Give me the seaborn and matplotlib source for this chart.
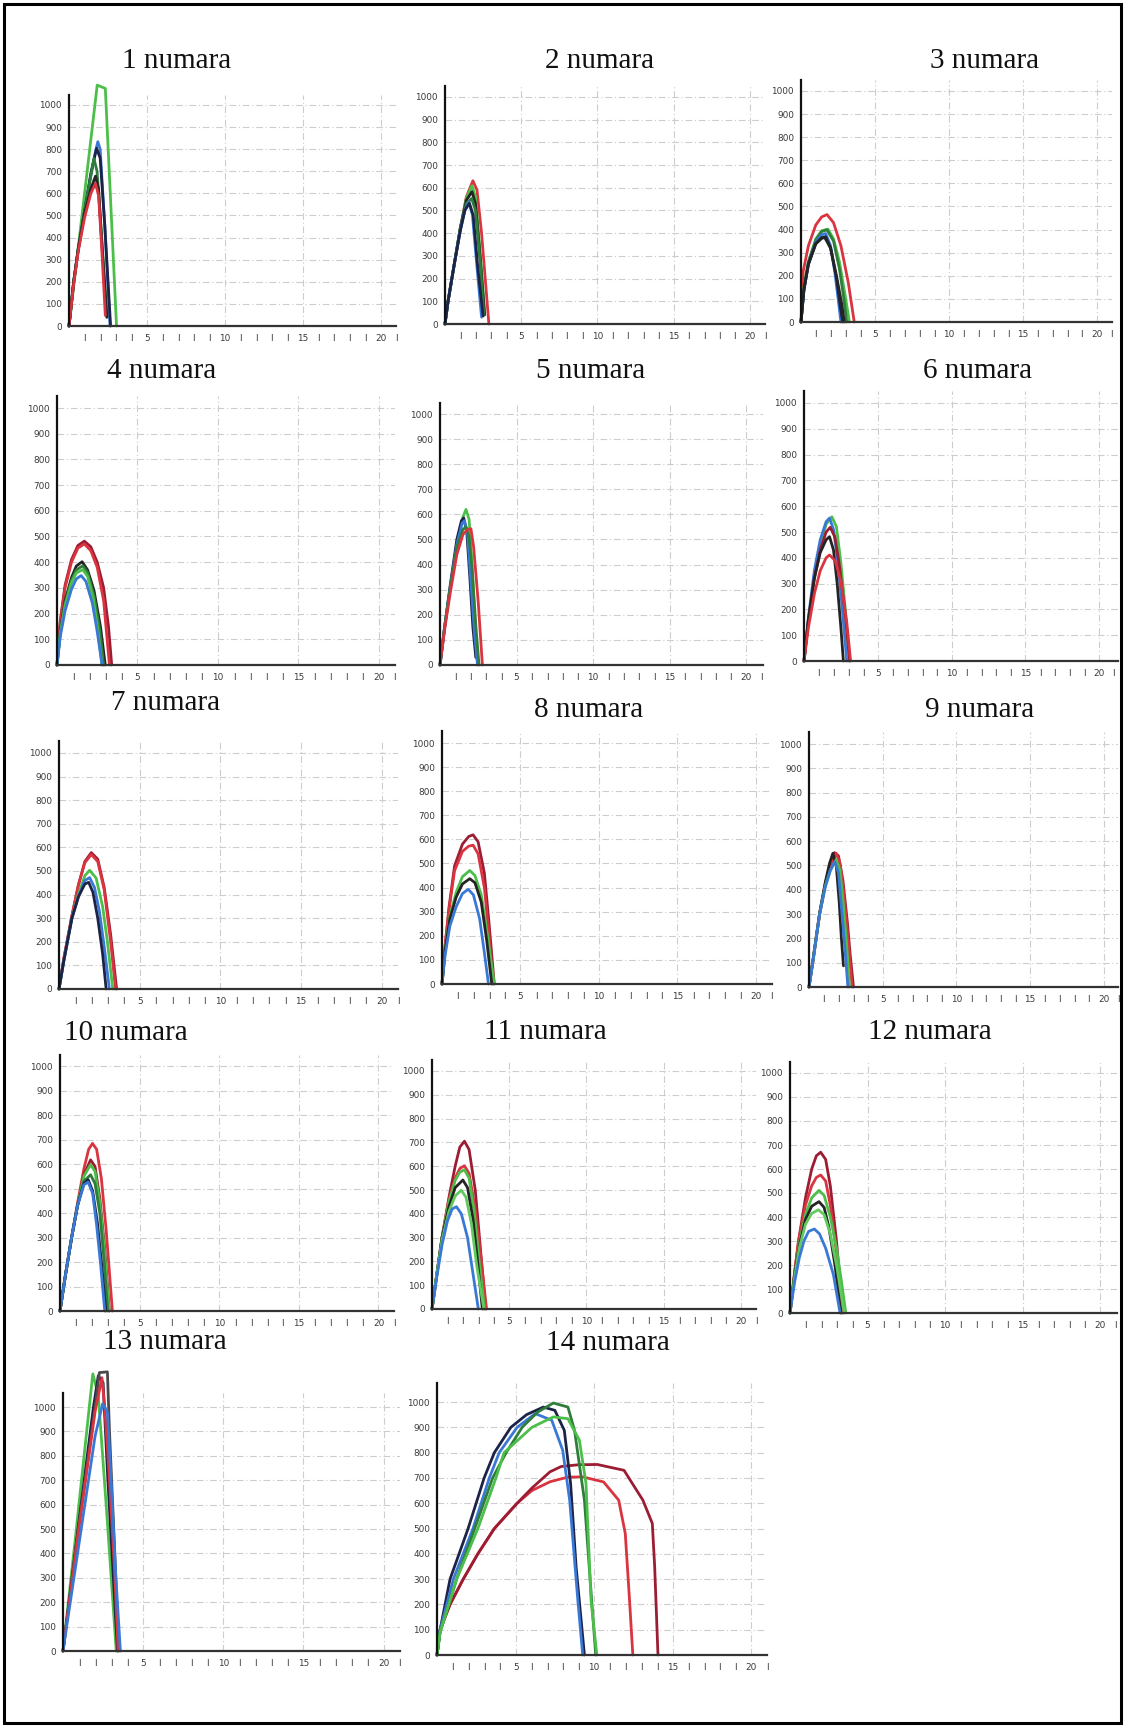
import matplotlib
matplotlib.use("Agg")
import matplotlib.pyplot as plt
from matplotlib.patches import Rectangle
import seaborn as sns
import pandas as pd

# ---------------- data (x = elongation units, y = load) ----------------
P1 = {
    "green":  ([0, 0.5, 1.0, 1.81, 2.33, 3.05], [0, 300, 600, 1090, 1075, 0]),
    "blue":   ([0, 0.3, 0.6, 1.0, 1.4, 1.7, 1.85, 2.0, 2.3, 2.63], [0, 200, 350, 520, 680, 790, 834, 800, 450, 0]),
    "navy":   ([0, 0.3, 0.6, 1.0, 1.4, 1.77, 2.0, 2.3, 2.67], [0, 200, 350, 520, 690, 804, 760, 450, 0]),
    "dkgreen":([0, 0.3, 0.6, 1.0, 1.4, 1.6, 1.8, 2.1, 2.43], [0, 200, 350, 520, 680, 758, 700, 400, 40]),
    "black":  ([0, 0.3, 0.6, 1.0, 1.4, 1.7, 1.9, 2.1, 2.43], [0, 200, 350, 510, 620, 678, 620, 380, 40]),
    "red":    ([0, 0.3, 0.6, 1.0, 1.4, 1.7, 1.9, 2.1, 2.33], [0, 190, 340, 490, 600, 645, 590, 350, 48]),
}
P2 = {
    "red":    ([0, 0.2, 0.6, 1.0, 1.4, 1.83, 2.1, 2.4, 2.7, 2.88], [0, 100, 260, 420, 560, 631, 590, 400, 150, 0]),
    "green":  ([0, 0.2, 0.6, 1.0, 1.4, 1.77, 2.0, 2.3, 2.6], [0, 100, 260, 420, 555, 609, 560, 320, 50]),
    "black":  ([0, 0.2, 0.6, 1.0, 1.4, 1.77, 2.0, 2.3, 2.6], [0, 100, 260, 420, 545, 583, 530, 300, 40]),
    "dkgreen":([0, 0.2, 0.6, 1.0, 1.4, 1.75, 2.0, 2.3, 2.55], [0, 100, 260, 420, 530, 553, 500, 280, 40]),
    "blue":   ([0, 0.2, 0.6, 1.0, 1.3, 1.56, 1.8, 2.1, 2.4], [0, 100, 260, 410, 500, 539, 480, 250, 30]),
    "navy":   ([0, 0.2, 0.6, 1.0, 1.3, 1.6, 1.85, 2.15, 2.5], [0, 100, 260, 410, 500, 532, 480, 250, 35]),
}
P3 = {
    "red":    ([0, 0.15, 0.5, 1.0, 1.4, 1.76, 2.2, 2.7, 3.2, 3.6], [0, 220, 330, 420, 455, 465, 430, 330, 170, 0]),
    "green":  ([0, 0.2, 0.5, 1.0, 1.4, 1.82, 2.2, 2.6, 3.0, 3.27], [0, 150, 260, 360, 395, 402, 360, 260, 110, 0]),
    "dkgreen":([0, 0.2, 0.5, 1.0, 1.4, 1.76, 2.2, 2.6, 2.9, 3.09], [0, 150, 260, 355, 392, 399, 350, 230, 100, 0]),
    "blue":   ([0, 0.2, 0.5, 1.0, 1.4, 1.67, 2.0, 2.3, 2.55, 2.7], [0, 140, 250, 345, 378, 383, 330, 210, 80, 0]),
    "navy":   ([0, 0.2, 0.5, 1.0, 1.4, 1.67, 2.0, 2.4, 2.65, 2.82], [0, 140, 250, 340, 365, 369, 320, 190, 70, 0]),
    "black":  ([0, 0.2, 0.5, 1.0, 1.4, 1.6, 2.0, 2.4, 2.75, 2.93], [0, 140, 250, 338, 362, 366, 320, 200, 80, 0]),
}
P4 = {
    "darkred":([0, 0.2, 0.5, 0.9, 1.3, 1.7, 2.1, 2.5, 2.9, 3.2, 3.4], [0, 170, 310, 410, 465, 482, 460, 400, 300, 150, 0]),
    "red":    ([0, 0.2, 0.5, 0.9, 1.3, 1.7, 2.1, 2.5, 2.9, 3.26], [0, 165, 300, 400, 455, 471, 445, 380, 250, 0]),
    "black":  ([0, 0.2, 0.5, 0.9, 1.2, 1.56, 1.9, 2.3, 2.7, 3.0], [0, 130, 250, 340, 385, 402, 370, 290, 150, 0]),
    "dkgreen":([0, 0.2, 0.5, 0.9, 1.2, 1.6, 1.9, 2.3, 2.65, 2.9], [0, 125, 240, 330, 370, 386, 360, 270, 140, 0]),
    "green":  ([0, 0.2, 0.5, 0.9, 1.2, 1.6, 1.9, 2.25, 2.55, 2.8], [0, 120, 230, 320, 358, 371, 345, 260, 130, 0]),
    "blue":   ([0, 0.2, 0.5, 0.9, 1.2, 1.5, 1.8, 2.2, 2.5, 2.8], [0, 110, 210, 295, 335, 348, 325, 240, 130, 0]),
}
P5 = {
    "green":  ([0, 0.3, 0.65, 1.1, 1.5, 1.7, 1.9, 2.1, 2.3, 2.45], [0, 150, 300, 480, 590, 620, 580, 400, 150, 20]),
    "navy":   ([0, 0.3, 0.65, 1.1, 1.4, 1.55, 1.75, 1.95, 2.15, 2.34], [0, 150, 310, 500, 575, 586, 530, 350, 150, 30]),
    "blue":   ([0, 0.3, 0.65, 1.1, 1.45, 1.6, 1.8, 2.0, 2.25, 2.45], [0, 150, 300, 480, 565, 575, 520, 350, 130, 0]),
    "dkgreen":([0, 0.3, 0.65, 1.1, 1.5, 1.7, 1.9, 2.1, 2.35, 2.55], [0, 150, 300, 470, 540, 551, 510, 380, 150, 0]),
    "red":    ([0, 0.3, 0.65, 1.1, 1.5, 1.8, 2.02, 2.2, 2.5, 2.77], [0, 140, 280, 440, 520, 540, 543, 470, 250, 0]),
}
P6 = {
    "green":  ([0, 0.3, 0.7, 1.1, 1.5, 1.89, 2.2, 2.5, 2.8, 3.07], [0, 160, 330, 450, 530, 559, 520, 380, 200, 0]),
    "blue":   ([0, 0.3, 0.7, 1.1, 1.5, 1.73, 2.0, 2.3, 2.6, 2.9], [0, 170, 350, 470, 540, 554, 510, 380, 200, 0]),
    "darkred":([0, 0.3, 0.7, 1.1, 1.5, 1.78, 2.1, 2.4, 2.8, 3.1], [0, 160, 320, 430, 500, 518, 480, 370, 180, 0]),
    "black":  ([0, 0.3, 0.7, 1.1, 1.5, 1.73, 2.0, 2.25, 2.5, 2.67], [0, 160, 320, 420, 470, 482, 430, 300, 130, 0]),
    "red":    ([0, 0.3, 0.7, 1.1, 1.5, 1.73, 2.1, 2.5, 2.9, 3.16], [0, 130, 260, 350, 400, 411, 390, 310, 150, 0]),
}
P7 = {
    "darkred":([0, 0.3, 0.8, 1.2, 1.6, 2.0, 2.4, 2.8, 3.2, 3.57], [0, 130, 310, 440, 540, 578, 550, 430, 230, 0]),
    "red":    ([0, 0.3, 0.8, 1.2, 1.6, 2.0, 2.4, 2.8, 3.2, 3.5], [0, 130, 310, 440, 535, 570, 540, 420, 200, 0]),
    "green":  ([0, 0.3, 0.8, 1.2, 1.6, 1.9, 2.3, 2.7, 3.0, 3.33], [0, 120, 300, 400, 480, 503, 470, 350, 200, 0]),
    "blue":   ([0, 0.3, 0.8, 1.2, 1.6, 1.9, 2.2, 2.5, 2.8, 3.12], [0, 120, 300, 390, 460, 472, 430, 330, 180, 0]),
    "navy":   ([0, 0.3, 0.8, 1.2, 1.6, 1.84, 2.1, 2.4, 2.7, 2.92], [0, 120, 300, 390, 445, 452, 410, 300, 150, 0]),
}
P8 = {
    "darkred":([0, 0.2, 0.45, 0.8, 1.3, 1.7, 1.98, 2.3, 2.7, 3.0, 3.33], [0, 160, 320, 490, 580, 612, 619, 590, 460, 250, 0]),
    "red":    ([0, 0.2, 0.45, 0.8, 1.3, 1.7, 1.98, 2.3, 2.7, 3.0, 3.23], [0, 160, 310, 470, 550, 572, 576, 540, 400, 200, 0]),
    "green":  ([0, 0.2, 0.5, 0.9, 1.3, 1.77, 2.1, 2.5, 2.9, 3.33], [0, 140, 280, 380, 445, 471, 450, 370, 200, 0]),
    "black":  ([0, 0.2, 0.5, 0.9, 1.3, 1.77, 2.1, 2.5, 2.85, 3.17], [0, 140, 270, 360, 415, 437, 420, 340, 180, 0]),
    "blue":   ([0, 0.2, 0.5, 0.9, 1.3, 1.67, 2.0, 2.4, 2.7, 2.96], [0, 120, 240, 320, 375, 393, 370, 270, 130, 0]),
}
P9 = {
    "darkred":([0, 0.3, 0.72, 1.1, 1.4, 1.73, 2.0, 2.3, 2.6, 2.8, 3.02], [0, 120, 300, 420, 500, 553, 540, 440, 270, 130, 0]),
    "red":    ([0, 0.3, 0.72, 1.1, 1.45, 1.85, 2.1, 2.35, 2.6, 2.93], [0, 120, 300, 420, 500, 550, 510, 390, 230, 0]),
    "black":  ([0, 0.3, 0.72, 1.1, 1.4, 1.62, 1.85, 2.05, 2.2, 2.34], [0, 125, 305, 430, 510, 550, 500, 350, 200, 87]),
    "green":  ([0, 0.3, 0.72, 1.1, 1.45, 1.85, 2.1, 2.3, 2.55, 2.75], [0, 120, 300, 415, 480, 524, 480, 360, 180, 0]),
    "blue":   ([0, 0.3, 0.72, 1.1, 1.45, 1.75, 2.0, 2.2, 2.45, 2.64], [0, 120, 300, 410, 480, 516, 470, 330, 150, 0]),
}
P10 = {
    "red":    ([0, 0.35, 0.73, 1.1, 1.5, 1.8, 2.04, 2.3, 2.6, 2.9, 3.29], [0, 150, 300, 440, 580, 660, 684, 660, 540, 330, 0]),
    "darkred":([0, 0.35, 0.73, 1.1, 1.5, 1.92, 2.2, 2.5, 2.8, 3.1], [0, 150, 300, 430, 555, 617, 590, 460, 260, 0]),
    "green":  ([0, 0.35, 0.73, 1.1, 1.5, 1.92, 2.2, 2.5, 2.8, 3.08], [0, 150, 300, 430, 550, 597, 570, 440, 240, 0]),
    "dkgreen":([0, 0.35, 0.73, 1.1, 1.5, 1.92, 2.2, 2.5, 2.75, 3.0], [0, 150, 300, 430, 530, 556, 520, 400, 220, 0]),
    "navy":   ([0, 0.35, 0.73, 1.1, 1.5, 1.77, 2.05, 2.35, 2.6, 2.88], [0, 150, 300, 430, 520, 536, 490, 360, 200, 0]),
    "blue":   ([0, 0.35, 0.73, 1.1, 1.5, 1.77, 2.05, 2.3, 2.55, 2.81], [0, 150, 300, 430, 515, 526, 480, 350, 190, 0]),
}
P11 = {
    "darkred":([0, 0.3, 0.65, 1.1, 1.5, 1.8, 2.1, 2.4, 2.8, 3.1, 3.47], [0, 140, 300, 470, 600, 680, 705, 670, 500, 280, 0]),
    "red":    ([0, 0.3, 0.65, 1.1, 1.5, 1.8, 2.1, 2.4, 2.8, 3.2, 3.53], [0, 140, 300, 460, 550, 590, 602, 570, 420, 200, 0]),
    "green":  ([0, 0.3, 0.65, 1.1, 1.5, 1.8, 2.1, 2.4, 2.75, 3.05, 3.4], [0, 140, 300, 450, 540, 575, 585, 550, 400, 200, 0]),
    "black":  ([0, 0.3, 0.65, 1.1, 1.5, 2.0, 2.3, 2.65, 2.95, 3.26], [0, 140, 300, 430, 510, 542, 510, 380, 200, 0]),
    "green2": ([0, 0.3, 0.65, 1.1, 1.5, 1.89, 2.2, 2.55, 2.9, 3.36], [0, 140, 290, 410, 475, 499, 470, 360, 180, 0]),
    "blue":   ([0, 0.3, 0.65, 1.0, 1.3, 1.58, 1.9, 2.3, 2.65, 3.0], [0, 130, 270, 370, 420, 430, 400, 300, 150, 0]),
}
P12 = {
    "darkred":([0, 0.3, 0.55, 1.0, 1.4, 1.7, 1.98, 2.3, 2.6, 3.0, 3.4], [0, 170, 300, 480, 600, 655, 670, 640, 530, 300, 0]),
    "red":    ([0, 0.3, 0.55, 1.0, 1.4, 1.7, 1.98, 2.3, 2.6, 3.0, 3.34], [0, 170, 300, 450, 530, 565, 575, 550, 450, 250, 0]),
    "green":  ([0, 0.3, 0.6, 1.0, 1.4, 1.87, 2.2, 2.6, 3.0, 3.3, 3.6], [0, 160, 290, 410, 480, 511, 490, 400, 270, 140, 0]),
    "black":  ([0, 0.3, 0.6, 1.0, 1.4, 1.87, 2.2, 2.5, 2.9, 3.28], [0, 160, 280, 390, 445, 464, 440, 360, 200, 0]),
    "green2": ([0, 0.3, 0.6, 1.0, 1.4, 1.83, 2.2, 2.6, 3.0, 3.5], [0, 150, 270, 370, 415, 430, 410, 330, 200, 0]),
    "blue":   ([0, 0.3, 0.6, 0.9, 1.2, 1.57, 1.9, 2.3, 2.8, 3.23], [0, 130, 230, 300, 340, 350, 330, 270, 160, 0]),
}
P13 = {
    "green":  ([0, 0.8, 1.86, 2.2, 2.8, 3.32], [0, 480, 1136, 1050, 500, 0]),
    "navy":   ([0, 0.9, 1.9, 2.2, 2.5, 2.8, 3.1, 3.4], [0, 480, 1000, 1128, 1100, 700, 350, 0]),
    "gray":   ([0, 0.9, 2.0, 2.27, 2.77, 2.9, 3.2, 3.48], [0, 470, 1000, 1141, 1144, 900, 450, 0]),
    "red":    ([0, 0.9, 2.0, 2.43, 2.6, 2.9, 3.2, 3.44], [0, 460, 980, 1120, 1000, 700, 350, 0]),
    "blue":   ([0, 1.0, 2.0, 2.47, 2.77, 3.0, 3.3, 3.58], [0, 440, 880, 1013, 980, 700, 300, 0]),
}
P14 = {
    "red":    ([0, 0.2, 0.83, 1.67, 2.6, 3.65, 5.1, 6.04, 7.2, 8.33, 9.27, 10.6, 11.56, 11.98, 12.25, 12.46],
               [0, 100, 200, 300, 400, 500, 600, 650, 685, 703, 704, 684, 612, 480, 217, 0]),
    "darkred":([0, 0.2, 0.83, 1.67, 2.6, 3.65, 5.1, 6.04, 7.19, 7.9, 9.0, 10.2, 11.9, 13.1, 13.7, 13.85, 14.06],
               [0, 100, 200, 300, 400, 500, 600, 660, 724, 745, 752, 753, 730, 612, 520, 349, 0]),
    "navy":   ([0, 0.2, 0.83, 1.98, 3.0, 3.65, 4.7, 5.7, 6.77, 7.5, 8.1, 8.5, 8.85, 9.38],
               [0, 100, 300, 500, 700, 800, 900, 950, 980, 967, 888, 678, 349, 0]),
    "blue":   ([0, 0.2, 1.04, 2.29, 3.33, 3.96, 5.1, 6.25, 7.3, 8.0, 8.44, 8.96, 9.27],
               [0, 100, 300, 500, 700, 800, 900, 954, 928, 809, 612, 217, 0]),
    "dkgreen":([0, 0.2, 1.25, 2.4, 3.54, 4.4, 5.42, 6.4, 7.4, 8.33, 8.75, 9.38, 9.8, 10.1],
               [0, 90, 300, 500, 700, 800, 900, 960, 996, 980, 888, 612, 250, 0]),
    "green":  ([0, 0.2, 1.25, 2.6, 3.75, 4.27, 6.04, 7.4, 8.33, 9.06, 9.48, 9.8, 10.17],
               [0, 90, 300, 500, 700, 800, 900, 941, 934, 849, 678, 217, 0]),
}
PANELS = [P1, P2, P3, P4, P5, P6, P7, P8, P9, P10, P11, P12, P13, P14]
TITLES = [f"{i} numara" for i in range(1, 15)]
Y_TICKS = list(range(0, 1001, 100))
X_MAJOR = [5, 10, 15, 20]
X_MINOR = [i for i in range(1, 22) if i % 5 != 0]

# ---------------- styling / layout ----------------
COLORS = {
    "red": "#d9343f", "darkred": "#9c1d33", "green": "#4cbf4a", "green2": "#62c95f",
    "dkgreen": "#2f7d3b", "blue": "#3a78d6", "navy": "#1c2347", "black": "#242424",
    "gray": "#4a4a4a",
}
# left px, zero-line px (from top), px per x unit, px per 100 y, xmax, ymax, title cx, title baseline
LAYOUT = [
    (69, 326, 16.2, 22.1, 20.2, 1045, 177, 68),
    (445, 324, 16.0, 22.7, 20.0, 1050, 600, 68),
    (801, 322, 15.0, 23.1, 20.7, 1048, 985, 68),
    (57, 665, 16.4, 25.7, 20.6, 1047, 162, 378),
    (440, 665, 15.3, 25.1, 21.1, 1044, 591, 378),
    (804, 661, 14.75, 25.8, 21.3, 1047, 978, 378),
    (59, 989, 16.3, 23.6, 20.8, 1051, 166, 710),
    (442, 984, 16.0, 24.1, 20.6, 1050, 589, 717),
    (809, 987, 14.8, 24.3, 20.9, 1049, 980, 717),
    (60, 1311, 16.0, 24.5, 20.9, 1045, 126, 1040),
    (432, 1309, 15.9, 23.8, 20.4, 1046, 545, 1039),
    (790, 1313, 15.5, 24.0, 21.1, 1046, 930, 1039),
    (63, 1651, 16.5, 24.4, 20.4, 1057, 165, 1349),
    (437, 1655, 16.1, 25.3, 20.5, 1075, 608, 1350),
]

W, H = 1130, 1726
sns.set_style("white")
plt.rcParams["font.family"] = ["DejaVu Sans"]

fig = plt.figure(figsize=(W / 100, H / 100), dpi=100)
fig.patch.set_facecolor("white")

for data, title, (L, y0, pxu, py100, xmax, ymax, tcx, tby) in zip(PANELS, TITLES, LAYOUT):
    rows = []
    for name, (xs, ys) in data.items():
        for xv, yv in zip(xs, ys):
            rows.append((name, xv, yv))
    df = pd.DataFrame(rows, columns=["curve", "x", "y"])
    w_px = xmax * pxu
    h_px = ymax / 100 * py100
    ax = fig.add_axes([L / W, 1 - y0 / H, w_px / W, h_px / H])
    sns.lineplot(data=df, x="x", y="y", hue="curve", palette=COLORS,
                 hue_order=list(data.keys()), sort=False, estimator=None,
                 legend=False, linewidth=2.0, ax=ax)
    for ln in ax.lines:
        ln.set_clip_on(False)
        ln.set_solid_joinstyle("round")
        ln.set_solid_capstyle("round")
    ax.set_xlim(0, xmax)
    ax.set_ylim(0, ymax)
    ax.set_xlabel("")
    ax.set_ylabel("")
    ax.set_yticks(Y_TICKS)
    ax.set_yticklabels([str(v) for v in Y_TICKS])
    ax.set_xticks(X_MAJOR)
    ax.set_xticklabels([str(v) for v in X_MAJOR])
    ax.set_xticks(X_MINOR, minor=True)
    ax.set_xticklabels(["I"] * len(X_MINOR), minor=True)
    ax.tick_params(which="both", length=0, labelsize=6.4, labelcolor="#3a3a3a")
    ax.tick_params(axis="y", pad=5)
    ax.tick_params(axis="x", which="both", pad=6)
    ax.grid(True, which="major", color="#cdcdcd", linestyle=(0, (6, 2.5, 1, 2.5)), linewidth=0.8)
    ax.set_axisbelow(True)
    for side in ("top", "right"):
        ax.spines[side].set_visible(False)
    ax.spines["left"].set_color("#111111")
    ax.spines["left"].set_linewidth(1.6)
    ax.spines["bottom"].set_color("#333333")
    ax.spines["bottom"].set_linewidth(1.6)
    ax.set_facecolor("none")
    fig.text(tcx / W, 1 - tby / H, title, ha="center", va="baseline",
             fontsize=21, family=["Liberation Serif", "DejaVu Serif"], color="#111111")

fig.patches.append(Rectangle((4 / W, 3 / H), (1121 - 4) / W, (1722 - 3) / H,
                             transform=fig.transFigure, fill=False,
                             edgecolor="black", linewidth=2.2))

fig.savefig("out.png", dpi=100, facecolor="white")
